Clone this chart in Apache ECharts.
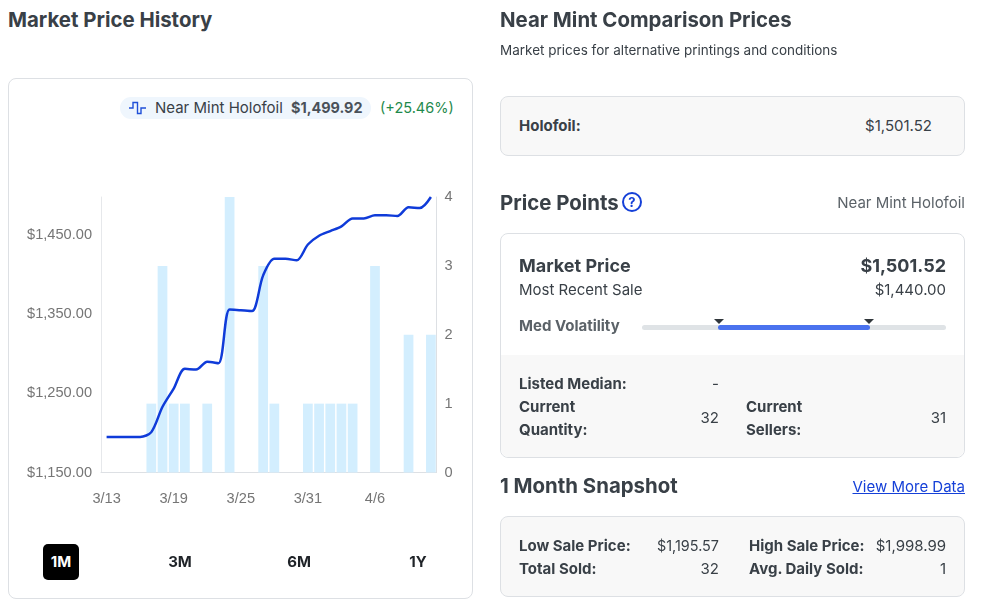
<!DOCTYPE html>
<html>
<head>
<meta charset="utf-8">
<title>Market Price History</title>
<script src="https://cdn.jsdelivr.net/npm/echarts@6/dist/echarts.min.js"></script>
<style>
html, body { margin: 0; padding: 0; background: #fff; }
body { width: 988px; height: 612px; position: relative; overflow: hidden; font-family: Inter, "Noto Sans", sans-serif; color: #394047; }
.t { position: absolute; white-space: nowrap; line-height: 20px; font-size: 15px; }
.r { text-align: right; }
.b { font-weight: 700; }
.h { font-size: 20.4px; font-weight: 650; line-height: 26px; color: #394047; }
.box { position: absolute; box-sizing: border-box; border: 1px solid #dde0e4; border-radius: 8px; }
.grey { background: #f8f8f8; }
#main { position: absolute; left: 0; top: 0; width: 988px; height: 612px; }
.pill { position: absolute; left: 120px; top: 97px; width: 251px; height: 22px; border-radius: 11px; background: #eff6fd; }
.range { position: absolute; top: 544px; width: 36px; height: 36px; line-height: 36px; text-align: center; font-size: 15px; font-weight: 700; color: #1f2328; border-radius: 5px; z-index: 2; }
.range.on { background: #000; color: #fff; }
.track { position: absolute; left: 642px; top: 325px; width: 304px; height: 5px; border-radius: 3px; background: #dfe3e6; }
.fill { position: absolute; left: 718px; top: 325px; width: 152px; height: 5px; border-radius: 3px; background: #4a72ee; }
.tri { position: absolute; top: 319px; width: 0; height: 0; border-left: 5px solid transparent; border-right: 5px solid transparent; border-top: 5px solid #30363b; }
.band { position: absolute; left: 501px; top: 355px; width: 463px; height: 102px; background: #f8f8f8; border-radius: 0 0 8px 8px; }
a { color: #1540d8; }
</style>
</head>
<body>
<div class="t h" style="left:8px;top:7px">Market Price History</div>
<div class="box" style="left:8px;top:78px;width:465px;height:521px"></div>
<div class="pill"></div>
<svg style="position:absolute;left:128px;top:100px" width="20" height="16" viewBox="0 0 20 16">
  <path d="M1 8H5V2.5H9.5V13.5H13V8H18" fill="none" stroke="#1f4fd8" stroke-width="1.4"/>
</svg>
<div class="t" style="left:155px;top:98px;color:#394047">Near Mint Holofoil</div>
<div class="t b" style="left:291px;top:98px;color:#4a5159;font-size:14.4px">$1,499.92</div>
<div class="t" style="left:380px;top:98px;color:#1f8a4c;font-size:14.5px">(+25.46%)</div>

<div id="main"></div>

<div class="range on" style="left:43px">1M</div>
<div class="range" style="left:162px">3M</div>
<div class="range" style="left:281px">6M</div>
<div class="range" style="left:400px">1Y</div>

<div class="t h" style="left:500px;top:7px">Near Mint Comparison Prices</div>
<div class="t" style="left:500px;top:40px;font-size:13.5px">Market prices for alternative printings and conditions</div>

<div class="box grey" style="left:500px;top:96px;width:465px;height:60px"></div>
<div class="t b" style="left:519px;top:116px">Holofoil:</div>
<div class="t r" style="right:56px;top:116px">$1,501.52</div>

<div class="t h" style="left:500px;top:190px">Price Points</div>
<svg style="position:absolute;left:621px;top:191px" width="22" height="22" viewBox="0 0 22 22">
  <circle cx="11" cy="11" r="9" fill="none" stroke="#1540d8" stroke-width="2"/>
  <text x="11" y="15.5" text-anchor="middle" font-family="Inter" font-size="13" font-weight="700" fill="#1540d8">?</text>
</svg>
<div class="t r" style="right:23px;top:193px;color:#5b6268">Near Mint Holofoil</div>

<div class="box" style="left:500px;top:233px;width:465px;height:225px"></div>
<div class="band"></div>
<div class="t b" style="left:519px;top:256px;font-size:18px">Market Price</div>
<div class="t b r" style="right:42px;top:256px;font-size:18px">$1,501.52</div>
<div class="t" style="left:519px;top:280px">Most Recent Sale</div>
<div class="t r" style="right:42px;top:280px">$1,440.00</div>
<div class="t b" style="left:519px;top:316px;color:#5b6268">Med Volatility</div>
<div class="track"></div>
<div class="fill"></div>
<div class="tri" style="left:714px"></div>
<div class="tri" style="left:864px"></div>

<div class="t b" style="left:519px;top:374px">Listed Median:</div>
<div class="t r" style="right:269px;top:374px">-</div>
<div class="t b" style="left:519px;top:397px">Current</div>
<div class="t b" style="left:519px;top:420px">Quantity:</div>
<div class="t r" style="right:269px;top:408px">32</div>
<div class="t b" style="left:746px;top:397px">Current</div>
<div class="t b" style="left:746px;top:420px">Sellers:</div>
<div class="t r" style="right:42px;top:408px">31</div>

<div class="t h" style="left:500px;top:473px">1 Month Snapshot</div>
<div class="t r" style="right:23px;top:477px"><a href="#">View More Data</a></div>

<div class="box grey" style="left:500px;top:516px;width:465px;height:81px"></div>
<div class="t b" style="left:519px;top:536px">Low Sale Price:</div>
<div class="t r" style="right:269px;top:536px;font-size:14.4px">$1,195.57</div>
<div class="t b" style="left:749px;top:536px">High Sale Price:</div>
<div class="t r" style="right:42px;top:536px">$1,998.99</div>
<div class="t b" style="left:519px;top:559px">Total Sold:</div>
<div class="t r" style="right:269px;top:559px">32</div>
<div class="t b" style="left:749px;top:559px">Avg. Daily Sold:</div>
<div class="t r" style="right:42px;top:559px">1</div>

<script>
var dates = ['3/13', '3/14', '3/15', '3/16', '3/17', '3/18', '3/19', '3/20', '3/21', '3/22',
    '3/23', '3/24', '3/25', '3/26', '3/27', '3/28', '3/29', '3/30', '3/31', '4/1',
    '4/2', '4/3', '4/4', '4/5', '4/6', '4/7', '4/8', '4/9', '4/10', '4/11'];

var prices = [1195, 1195, 1195, 1195, 1201, 1233, 1256, 1281, 1280, 1290,
    1288, 1356, 1355, 1354, 1399, 1420, 1420, 1418, 1438, 1449,
    1455, 1461, 1471, 1471, 1475, 1475, 1474, 1485, 1484, 1498];

var sold = [0, 0, 0, 0, 1, 3, 1, 1, 0, 1,
    0, 4, 0, 0, 3, 1, 0, 0, 1, 1,
    1, 1, 1, 0, 3, 0, 0, 2, 0, 2];

var chart = echarts.init(document.getElementById('main'), null, { renderer: 'canvas' });

var axisFont = {
    color: '#757575',
    fontSize: 14.6,
    fontFamily: '"Liberation Sans", Arial, sans-serif'
};

chart.setOption({
    animation: false,
    grid: { left: 101, top: 197, width: 335.5, height: 275.5 },
    xAxis: {
        type: 'category',
        data: dates,
        axisLine: { show: true, lineStyle: { color: '#dde0e4' } },
        axisTick: { show: false },
        axisLabel: Object.assign({ interval: 5, margin: 19 }, axisFont)
    },
    yAxis: [{
        type: 'value',
        min: 1150,
        max: 1498,
        interval: 100,
        axisLine: { show: true, lineStyle: { color: '#e6e8eb' } },
        axisTick: { show: false },
        splitLine: { show: false },
        axisLabel: Object.assign({
            margin: 9,
            showMaxLabel: false,
            formatter: function (v) {
                return '$' + v.toLocaleString('en-US', { minimumFractionDigits: 2 });
            }
        }, axisFont)
    }, {
        type: 'value',
        min: 0,
        max: 4,
        interval: 1,
        position: 'right',
        axisLine: { show: true, lineStyle: { color: '#dde0e4' } },
        axisTick: { show: false },
        splitLine: { show: false },
        axisLabel: Object.assign({ margin: 8 }, axisFont)
    }],
    series: [{
        name: 'Sold',
        type: 'bar',
        yAxisIndex: 1,
        data: sold,
        barCategoryGap: '13%',
        itemStyle: { color: '#d3eefe' }
    }, {
        name: 'Near Mint Holofoil',
        type: 'line',
        yAxisIndex: 0,
        data: prices,
        smooth: 0.3,
        showSymbol: false,
        z: 5,
        lineStyle: { color: '#0f3bd9', width: 2.5 }
    }]
});
</script>
</body>
</html>
